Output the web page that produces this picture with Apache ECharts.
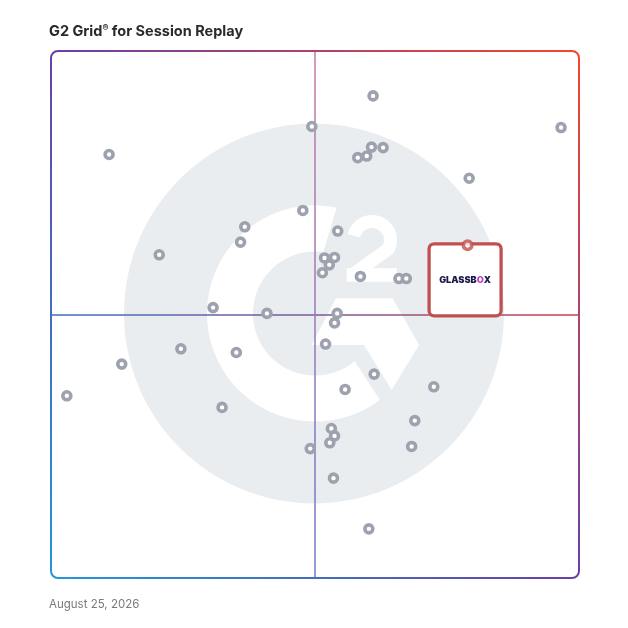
<!DOCTYPE html>
<html>
<head>
<meta charset="utf-8">
<script src="https://cdn.jsdelivr.net/npm/echarts@6/dist/echarts.min.js"></script>
<style>
  html, body { margin: 0; padding: 0; background: #ffffff; }
  #chart { width: 628px; height: 628px; }
</style>
</head>
<body>
<div id="chart"></div>
<script>
// ---- data (0-100 satisfaction / market presence scale) ----
const vendorX = [61.0, 96.6, 11.0, 3.0, 60.2, 49.4, 58.1, 59.8, 60.7, 62.9,
                 79.2, 47.7, 36.7, 35.9, 54.3, 20.5, 51.8, 53.7, 52.7, 51.4,
                 58.6, 65.9, 67.3, 30.7, 40.9, 54.2, 53.7, 52.0, 24.6, 35.1,
                 13.4, 61.2, 55.7, 72.5, 32.4, 68.9, 53.1, 53.7, 52.8, 49.1,
                 68.3, 53.5];
const vendorY = [91.5, 85.5, 80.4, 34.7, 9.5, 85.7, 79.8, 80.1, 81.8, 81.7,
                 75.9, 69.8, 66.7, 63.8, 65.9, 61.4, 60.8, 60.9, 59.5, 58.0,
                 57.3, 56.9, 56.9, 51.4, 50.3, 50.3, 48.5, 44.5, 43.6, 42.9,
                 40.7, 38.8, 35.9, 36.4, 32.5, 30.0, 28.5, 27.1, 25.8, 24.7,
                 25.1, 19.1];
const highlightName = 'GLASSBOX';
const highlightX = [78.9];
const highlightY = [63.2];
const quadrantMid = 50;
const axisMin = 0;
const axisMax = 100;
const dateText = 'August 25, 2026';

// ---- build ----
const vendorPoints = vendorX.map((x, i) => [x, vendorY[i]]);
const highlightPoints = highlightX.map((x, i) => [x, highlightY[i]]);

const chart = echarts.init(document.getElementById('chart'), null, { renderer: 'canvas' });

// watermark G2 shape (decoration)
function arcPts(c, r, a0, a1, n) {
  const pts = [];
  for (let i = 0; i <= n; i++) {
    const a = (a0 + (a1 - a0) * i / n) * Math.PI / 180;
    pts.push([c[0] + r * Math.cos(a), c[1] + r * Math.sin(a)]);
  }
  return pts;
}
const gc = [315, 313.5];
const gRing = arcPts(gc, 108, -78.5, -306.9, 120).concat(arcPts(gc, 62, -309.7, -82.3, 120));
const twoStroke = arcPts([372, 240], 18.5, -167, 30, 40).concat([[352, 275]]);

function grad(c0, c1, c2, x, y, x2, y2) {
  return { type: 'linear', x: x, y: y, x2: x2, y2: y2, global: false,
    colorStops: [{ offset: 0, color: c0 }, { offset: 0.5, color: c1 }, { offset: 1, color: c2 }] };
}

chart.setOption({
  animation: false,
  title: [
    { text: '{t|G2 Grid}{r|®}{t| for Session Replay}', left: 44, top: 19,
      textStyle: { rich: {
        t: { fontFamily: 'Inter', fontWeight: 700, fontSize: 14.5, color: '#2a2a2a' },
        r: { fontFamily: 'Inter', fontWeight: 700, fontSize: 9, color: '#2a2a2a', verticalAlign: 'top', padding: [0, 0, 4, 0] }
      } } },
    { text: dateText, left: 44, top: 594,
      textStyle: { fontFamily: 'Inter', fontWeight: 400, fontSize: 11.5, color: '#7a7a7a' } }
  ],
  grid: { left: 51, top: 51, width: 528, height: 528, show: false },
  xAxis: { type: 'value', min: axisMin, max: axisMax, show: false },
  yAxis: { type: 'value', min: axisMin, max: axisMax, show: false },
  graphic: [
    { id: 'wmCircle', type: 'circle', z: -5, silent: true, shape: { cx: 314, cy: 313.5, r: 190 }, style: { fill: '#eaedf0' } },
    { id: 'wmG', type: 'polygon', z: -4, silent: true, shape: { points: gRing }, style: { fill: '#ffffff' } },
    { id: 'wmBar', type: 'polygon', z: -4, silent: true,
      shape: { points: [[336, 298.3], [392.5, 298.3], [419, 345], [391.7, 390], [364, 345], [311.7, 345]] },
      style: { fill: '#ffffff' } },
    { id: 'wm2', type: 'polyline', z: -4, silent: true,
      shape: { points: twoStroke },
      style: { fill: null, stroke: '#ffffff', lineWidth: 13, lineJoin: 'miter', lineCap: 'butt' } },
    { id: 'wm2b', type: 'rect', z: -4, silent: true, shape: { x: 346.7, y: 268.3, width: 50, height: 13.4 }, style: { fill: '#ffffff' } },
    { id: 'frame', type: 'rect', z: 10, silent: true, shape: { x: 51, y: 51, width: 528, height: 527, r: 7 },
      style: { fill: null, lineWidth: 2, stroke: grad('#1f9ad8', '#6840a8', '#f5472b', 0, 1, 1, 0) } }
  ],
  series: [
    { type: 'line', silent: true, showSymbol: false, symbol: 'none', z: 1,
      data: [[axisMin, quadrantMid], [axisMax, quadrantMid]],
      lineStyle: { width: 1.5, color: grad('#3d70c2', '#7c5a99', '#cf3f4c', 0, 0, 1, 0) } },
    { type: 'line', silent: true, showSymbol: false, symbol: 'none', z: 1,
      data: [[quadrantMid, axisMax], [quadrantMid, axisMin]],
      lineStyle: { width: 1.5, color: grad('#c57aa3', '#9a78b6', '#6c7bc9', 0, 0, 0, 1) } },
    { type: 'scatter', silent: true, z: 2, data: vendorPoints,
      symbol: 'circle', symbolSize: 8,
      itemStyle: { color: '#ffffff', borderColor: '#9da2ae', borderWidth: 3.6, opacity: 1 } },
    { type: 'scatter', silent: true, z: 4, data: highlightPoints, name: highlightName,
      symbol: 'circle', symbolSize: 8.5,
      itemStyle: { color: '#ffffff', borderColor: '#c0504f', borderWidth: 3.6 } }
  ]
});

// callout box anchored to the highlighted point
const hp = chart.convertToPixel({ seriesIndex: 3 }, highlightPoints[0]);
chart.setOption({
  graphic: [
    { id: 'callout', type: 'rect', z: 3, silent: true,
      shape: { x: hp[0] - 38.5, y: hp[1] - 1.5, width: 72, height: 72, r: 5 },
      style: { fill: '#ffffff', stroke: '#c0504f', lineWidth: 3.3 } },
    { id: 'calloutText', type: 'text', z: 3, silent: true,
      x: hp[0] - 2.5, y: hp[1] + 34.5,
      style: { text: '{a|GLASSB}{o|O}{a|X}', align: 'center', verticalAlign: 'middle',
        rich: {
          a: { fontFamily: 'Inter', fontWeight: 900, fontSize: 9.2, fill: '#1b1a4b', color: '#1b1a4b' },
          o: { fontFamily: 'Inter', fontWeight: 900, fontSize: 9.2, fill: '#c244c8', color: '#c244c8' }
        } } }
  ]
});
</script>
</body>
</html>
